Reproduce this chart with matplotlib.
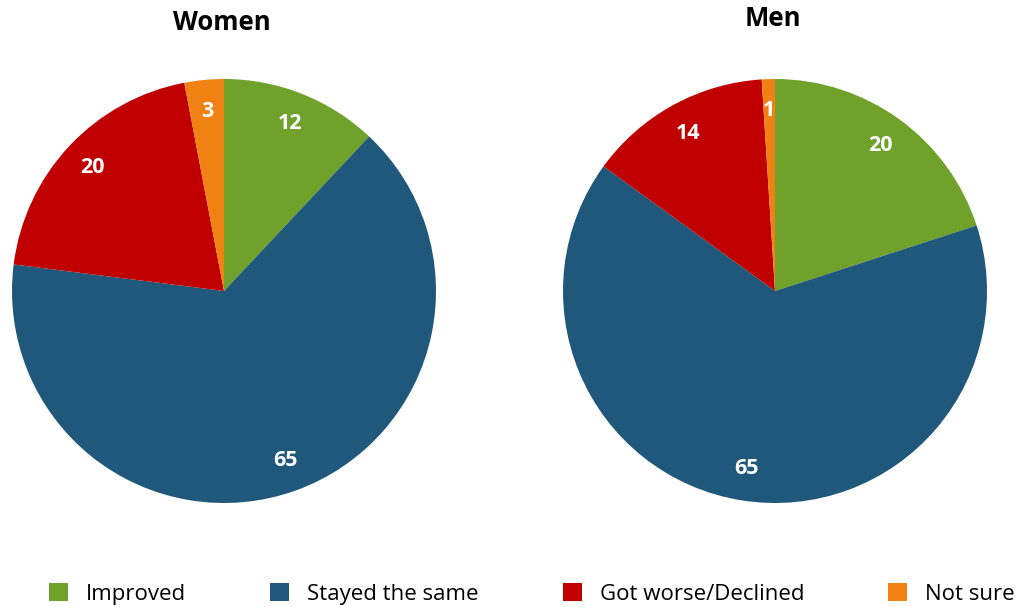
import matplotlib
matplotlib.use("Agg")
import matplotlib.pyplot as plt
from matplotlib.patches import Patch
import math

categories=["Improved","Stayed the same","Got worse/Declined","Not sure"]
women=[12,65,20,3]
men=[20,65,14,1]
colors=["#6FA12B","#1F587A","#C00000","#F08213"]

plt.rcParams['font.family']=['Open Sans','DejaVu Sans']

fig=plt.figure(figsize=(10.22,6.07),dpi=100)

def drawpie(rect,vals,title,titlex,titley):
	ax=fig.add_axes(rect)
	ax.pie(vals,colors=colors,startangle=90,counterclock=False,wedgeprops=dict(linewidth=0))
	ax.set_aspect('equal')
	ax.set_xlim(-1,1)
	ax.set_ylim(-1,1)
	ax.axis('off')
	# value labels inside each wedge
	cum=0
	for v in vals:
		mid=(cum+v/2.0)/100.0*2*math.pi
		cum+=v
		r=0.85
		ax.text(r*math.sin(mid),r*math.cos(mid),str(v),ha='center',va='center',
			color='white',fontsize=15.5,fontweight='bold')
	fig.text(titlex/1022.0,1-titley/607.0,title,ha='center',va='center',fontsize=18.5,fontweight='bold')

drawpie([12/1022.0,104/607.0,424/1022.0,424/607.0],women,"Women",222,22)
drawpie([563/1022.0,104/607.0,424/1022.0,424/607.0],men,"Men",773,19)

handles=[Patch(facecolor=c,edgecolor='none') for c in colors]
fig.legend(handles,categories,loc='center left',bbox_to_anchor=(49/1022.0,1-594/607.0),ncol=4,frameon=False,
	fontsize=16,handlelength=0.85,handleheight=0.85,handletextpad=0.8,columnspacing=3.8,borderpad=0,borderaxespad=0)

fig.savefig("out.png",dpi=100)
